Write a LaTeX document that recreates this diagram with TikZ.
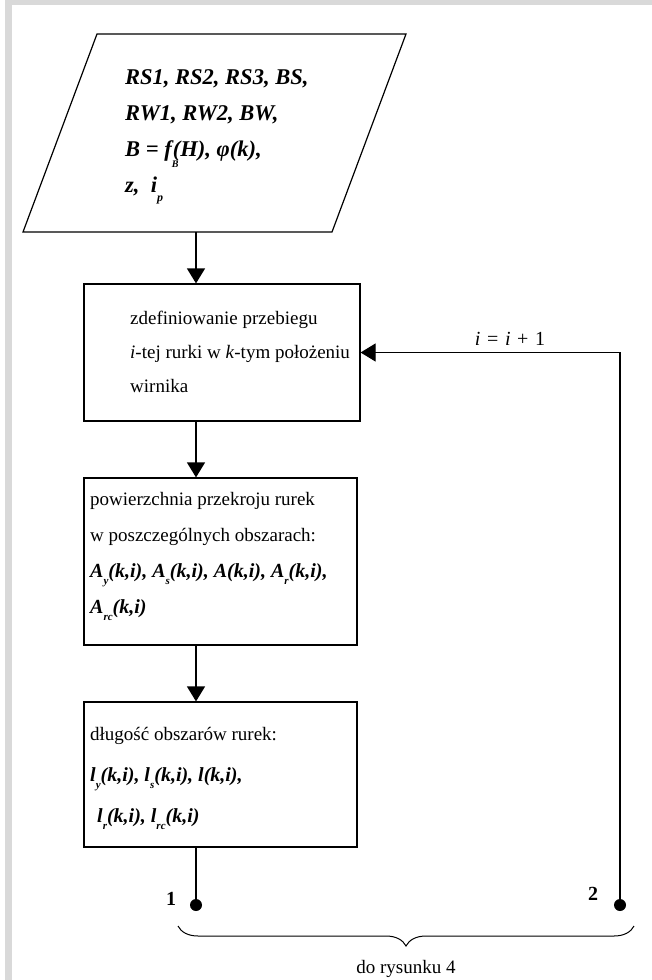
\documentclass[tikz,border=0pt]{standalone}
\usepackage{fontspec}
\setmainfont{Liberation Serif}
\usetikzlibrary{arrows.meta,decorations.pathreplacing}
\definecolor{band}{HTML}{D9D9D9}
\newcommand\lsub[1]{\raisebox{-0.38em}{\fontsize{11}{11}\selectfont #1}}
\newcommand\psub[1]{\raisebox{-0.42em}{\fontsize{12}{12}\selectfont #1}}
\tikzset{
  box/.style={draw, line width=1.2pt, inner sep=0},
  txt/.style={anchor=base west, inner sep=0, font=\fontsize{19}{19}\selectfont},
  mtxt/.style={anchor=base west, inner sep=0, font=\fontsize{20}{20}\selectfont\bfseries\itshape},
  ptxt/.style={anchor=base west, inner sep=0, font=\fontsize{22.5}{22.5}\selectfont\bfseries\itshape},
  arr/.style={line width=1.2pt, -{Triangle[width=18pt,length=15pt]}},
  ln/.style={line width=1.2pt},
  dotnode/.style={circle, fill, inner sep=0, minimum size=12pt},
}
\begin{document}
\begin{tikzpicture}[x=1pt,y=-1pt]
\useasboundingbox (0,0) rectangle (652,980);
\fill[band] (5,0) rectangle (652,5);
\fill[band] (5,0) rectangle (12,980);

% input parallelogram
\coordinate (p1) at (97,34);
\coordinate (p2) at (406,34);
\coordinate (p3) at (332,232);
\coordinate (p4) at (23,232);
\coordinate (pin) at (196,232);
\draw[ln, line join=miter] (p1) -- (p2) -- (p3) -- (p4) -- cycle;
\node[ptxt] (i1) at (125,84) {RS1, RS2, RS3, BS,};
\node[ptxt] (i2) at (125,120) {RW1, RW2, BW,};
\node[ptxt] (i3) at (125,156) {B = f\rlap{\raisebox{-0.5em}{\fontsize{10}{10}\selectfont B}}\kern0.05em(H), φ(k),};
\node[ptxt] (i4) at (125,192) {z,\ \ i\psub{p}};

% boxes
\node[box, minimum width=276pt, minimum height=137pt] (b2) at (222,352.5) {};
\node[box, minimum width=273pt, minimum height=167pt] (b3) at (220.5,561.5) {};
\node[box, minimum width=273pt, minimum height=145pt] (b4) at (220.5,774.5) {};

\node[txt] (t21) at (130,324) {zdefiniowanie przebiegu};
\node[txt] (t22) at (130,358) {\textit{i}-tej rurki w \textit{k}-tym położeniu};
\node[txt] (t23) at (130,392) {wirnika};

\node[txt] (t31) at (90,505) {powierzchnia przekroju rurek};
\node[txt] (t32) at (90,541) {w poszczególnych obszarach:};
\node[mtxt] (t33) at (90,577) {A\lsub{y}(k,i), A\lsub{s}(k,i), A(k,i), A\lsub{r}(k,i),};
\node[mtxt] (t34) at (90,613) {A\lsub{rc}(k,i)};

\node[txt] (t41) at (90,740) {długość obszarów rurek:};
\node[mtxt] (t42) at (90,781) {l\lsub{y}(k,i), l\lsub{s}(k,i), l(k,i),};
\node[mtxt] (t43) at (97,822) {l\lsub{r}(k,i), l\lsub{rc}(k,i)};

% output points
\node[dotnode] (d1) at (196,905) {};
\node[dotnode] (d2) at (620,905) {};
\node[txt, anchor=base, font=\fontsize{20}{20}\selectfont\bfseries] (n1) at (171,905) {1};
\node[txt, anchor=base, font=\fontsize{20}{20}\selectfont\bfseries] (n2) at (593,900) {2};

% connectors
\draw[arr] (pin) -- (b2.north -| pin);
\draw[arr] (b2.south -| d1) -- (b3.north -| d1);
\draw[arr] (b3.south -| d1) -- (b4.north -| d1);
\draw[ln] (b4.south -| d1) -- (d1);
\draw[arr] (d2) -- (d2 |- b2.east) -- (b2.east);
\node[txt, anchor=base, font=\fontsize{20}{20}\selectfont] (inc) at (510,345) {\textit{i}\,\,=\,\,\textit{i}\,\,+\,\,1};

% brace
\coordinate (bl) at (178,926);
\coordinate (br) at (634,926);
\draw[line width=1pt, decorate, decoration={brace, mirror, amplitude=20pt}] (bl) -- (br);
\node[txt, anchor=base, font=\fontsize{19}{19}\selectfont] (ref) at (406,973) {do rysunku 4};
\end{tikzpicture}
\end{document}
